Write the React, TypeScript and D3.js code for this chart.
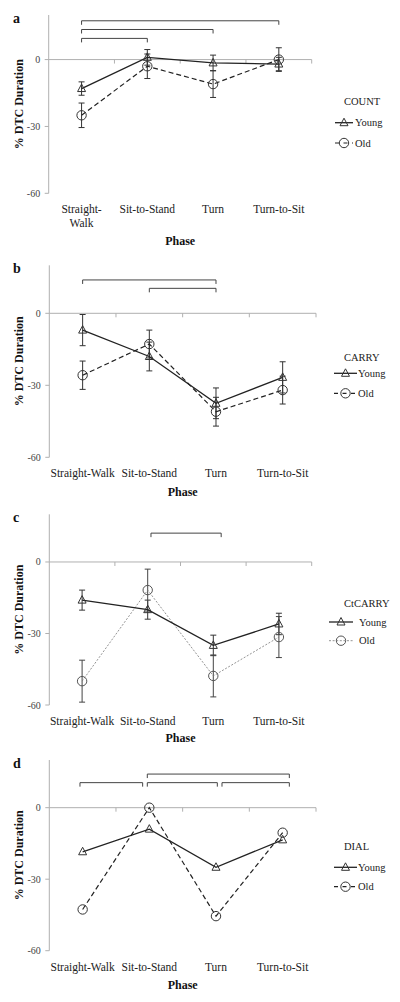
import React from "react";
import * as d3 from "d3";

const phases = ["Straight-Walk", "Sit-to-Stand", "Turn", "Turn-to-Sit"];
const phaseLinesA = [["Straight-", "Walk"], ["Sit-to-Stand"], ["Turn"], ["Turn-to-Sit"]];
const panelLetters = ["a", "b", "c", "d"];
const tasks = ["COUNT", "CARRY", "CtCARRY", "DIAL"];
const groups = ["Young", "Old"];
const yTicks = [0, -30, -60];
const yDomain = [-60, 20];

const youngCount = [-13, 1, -1.5, -2];
const youngCountErr = [3, 3.5, 3.5, 3];
const oldCount = [-25, -3, -11, 0];
const oldCountErr = [5.5, 5.5, 6, 5.3];

const youngCarry = [-7, -18, -37.5, -26.7];
const youngCarryErr = [6.5, 6, 6.4, 6.5];
const oldCarry = [-25.8, -12.8, -41, -32];
const oldCarryErr = [5.9, 5.8, 6, 5.8];

const youngCtCarry = [-16, -20, -35, -26];
const youngCtCarryErr = [4.2, 4, 4.3, 4.5];
const oldCtCarry = [-50, -11.8, -47.8, -31.5];
const oldCtCarryErr = [8.8, 8.8, 8.8, 8.6];

const youngDial = [-18.5, -9, -25, -13.5];
const oldDial = [-42.7, 0, -45.5, -10.5];

// brackets: [from category index, to category index, level value]
const bracketsCount = [[0, 3, 17.4], [0, 2, 13.5], [0, 1, 9.5]];
const bracketsCarry = [[0, 2, 13.9], [1, 2, 10.4]];
const bracketsCtCarry = [[1.05, 2.12, 12.1]];
const bracketsDial = [[0.97, 3.1, 14.1], [-0.04, 0.9, 10.5], [0.97, 2.02, 10.5], [2.09, 3.1, 10.5]];

const FONT = "'Liberation Serif', serif";

const layouts = [
  { top: 15, bottom: 193.3, left: 48.7, right: 311.7, titleY: 101, youngY: 122.7, oldY: 143, lineX0: 335, lineX1: 353, textX: 355, twoLine: true, phaseY: 245 },
  { top: 265.3, bottom: 457.3, left: 49.3, right: 316, titleY: 357.3, youngY: 373.3, oldY: 393.3, lineX0: 334, lineX1: 357, textX: 358, twoLine: false, phaseY: 496 },
  { top: 514.3, bottom: 705, left: 49.3, right: 311.7, titleY: 603, youngY: 622, oldY: 640.7, lineX0: 329, lineX1: 353, textX: 359, twoLine: false, phaseY: 742 },
  { top: 760, bottom: 950.7, left: 49.3, right: 316, titleY: 846.7, youngY: 867.3, oldY: 886.7, lineX0: 334, lineX1: 357, textX: 358, twoLine: false, phaseY: 988.5 },
];

const panels = [
  { young: youngCount, youngErr: youngCountErr, old: oldCount, oldErr: oldCountErr, brackets: bracketsCount },
  { young: youngCarry, youngErr: youngCarryErr, old: oldCarry, oldErr: oldCarryErr, brackets: bracketsCarry },
  { young: youngCtCarry, youngErr: youngCtCarryErr, old: oldCtCarry, oldErr: oldCtCarryErr, brackets: bracketsCtCarry },
  { young: youngDial, youngErr: null, old: oldDial, oldErr: null, brackets: bracketsDial },
];

function Triangle({ x, y, color }) {
  const s = 4;
  return <path d={`M${x},${y - s - 0.5}L${x + s},${y + s - 1}L${x - s},${y + s - 1}Z`} fill="none" stroke={color} strokeWidth={1} />;
}
function Circle({ x, y, color }) {
  return <circle cx={x} cy={y} r={4.7} fill="none" stroke={color} strokeWidth={1} />;
}

function Panel({ idx }) {
  const L = layouts[idx];
  const P = panels[idx];
  const x = d3.scaleBand().domain(phases).range([L.left, L.right]).padding(0);
  const y = d3.scaleLinear().domain(yDomain).range([L.bottom, L.top]);
  const bw = x.bandwidth();
  const cx = (i) => L.left + (i + 0.5) * bw;
  const line = d3.line().x((d, i) => x(phases[i]) + bw / 2).y((d) => y(d));
  const isC = idx === 2;
  const oldColor = isC ? "#777" : "#222";
  const oldDash = isC ? "2,1.6" : "5,3";
  const oldWidth = isC ? 0.8 : 1.2;
  const axisColor = "#b0b0b0";
  const y0 = y(0);

  const errBars = (vals, errs, color) =>
    errs
      ? vals.map((v, i) => {
          const px = x(phases[i]) + bw / 2;
          return (
            <g key={i} stroke={color} strokeWidth={1}>
              <line x1={px} x2={px} y1={y(v + errs[i])} y2={y(v - errs[i])} />
              <line x1={px - 3} x2={px + 3} y1={y(v + errs[i])} y2={y(v + errs[i])} />
              <line x1={px - 3} x2={px + 3} y1={y(v - errs[i])} y2={y(v - errs[i])} />
            </g>
          );
        })
      : null;

  return (
    <g>
      <text x={13} y={L.top + 7.5} fontFamily={FONT} fontWeight="bold" fontSize={14} fill="#111">{panelLetters[idx]}</text>
      {/* y axis */}
      <line x1={L.left} x2={L.left} y1={L.top} y2={L.bottom} stroke={axisColor} strokeWidth={1} />
      {yTicks.map((t) => (
        <g key={t}>
          <line x1={L.left - 4} x2={L.left} y1={y(t)} y2={y(t)} stroke={axisColor} strokeWidth={1} />
          <text x={L.left - 8.5} y={y(t)} dy="0.35em" textAnchor="end" fontFamily={FONT} fontSize={10} fill="#444">{t}</text>
        </g>
      ))}
      {/* zero axis */}
      <line x1={L.left} x2={L.right} y1={y0} y2={y0} stroke={axisColor} strokeWidth={1} />
      {phases.map((p) => (
        <line key={p} x1={x(p) + bw} x2={x(p) + bw} y1={y0} y2={y0 + 4} stroke={axisColor} strokeWidth={1} />
      ))}
      {/* category labels */}
      {phases.map((p, i) => {
        const lines = L.twoLine ? phaseLinesA[i] : [p];
        return (
          <text key={p} x={x(p) + bw / 2} y={L.bottom + 20} textAnchor="middle" fontFamily={FONT} fontSize={11.5} fill="#222">
            {lines.map((ln, j) => (
              <tspan key={j} x={x(p) + bw / 2} dy={j === 0 ? 0 : 13.5}>{ln}</tspan>
            ))}
          </text>
        );
      })}
      <text x={(L.left + L.right) / 2} y={L.phaseY} textAnchor="middle" fontFamily={FONT} fontWeight="bold" fontSize={12} fill="#111">Phase</text>
      <text transform={`translate(19,${(L.top + L.bottom) / 2}) rotate(-90)`} textAnchor="middle" dy="0.35em" fontFamily={FONT} fontWeight="bold" fontSize={12} fill="#111">% DTC Duration</text>
      {/* brackets */}
      {P.brackets.map((b, k) => {
        const yy = y(b[2]);
        return (
          <path key={k} d={`M${cx(b[0])},${yy + 4}V${yy}H${cx(b[1])}V${yy + 4}`} fill="none" stroke="#444" strokeWidth={1} />
        );
      })}
      {/* error bars */}
      {errBars(P.young, P.youngErr, "#333")}
      {errBars(P.old, P.oldErr, isC ? "#444" : "#333")}
      {/* lines */}
      <path d={line(P.old)} fill="none" stroke={oldColor} strokeWidth={oldWidth} strokeDasharray={oldDash} />
      <path d={line(P.young)} fill="none" stroke="#222" strokeWidth={1.3} />
      {P.young.map((v, i) => <Triangle key={"t" + i} x={x(phases[i]) + bw / 2} y={y(v)} color="#333" />)}
      {P.old.map((v, i) => <Circle key={"c" + i} x={x(phases[i]) + bw / 2} y={y(v)} color={isC ? "#555" : "#333"} />)}
      {/* legend */}
      <text x={344} y={L.titleY} dy="0.35em" fontFamily={FONT} fontSize={10.5} fill="#222">{tasks[idx]}</text>
      <line x1={L.lineX0} x2={L.lineX1} y1={L.youngY} y2={L.youngY} stroke="#222" strokeWidth={1.3} />
      <Triangle x={(L.lineX0 + L.lineX1) / 2} y={L.youngY} color="#333" />
      <text x={L.textX} y={L.youngY} dy="0.35em" fontFamily={FONT} fontSize={10.5} fill="#222">{groups[0]}</text>
      <line x1={L.lineX0} x2={L.lineX1} y1={L.oldY} y2={L.oldY} stroke={oldColor} strokeWidth={oldWidth} strokeDasharray={isC ? "2,1.6" : "4,4.5"} />
      <Circle x={(L.lineX0 + L.lineX1) / 2} y={L.oldY} color={isC ? "#555" : "#333"} />
      <text x={L.textX} y={L.oldY} dy="0.35em" fontFamily={FONT} fontSize={10.5} fill="#222">{groups[1]}</text>
    </g>
  );
}

export default function App() {
  return (
    <svg width={400} height={1002} style={{ position: "absolute", left: 0, top: 0, background: "#fff" }}>
      <rect width={400} height={1002} fill="#fff" />
      {panels.map((_, i) => <Panel key={i} idx={i} />)}
    </svg>
  );
}
